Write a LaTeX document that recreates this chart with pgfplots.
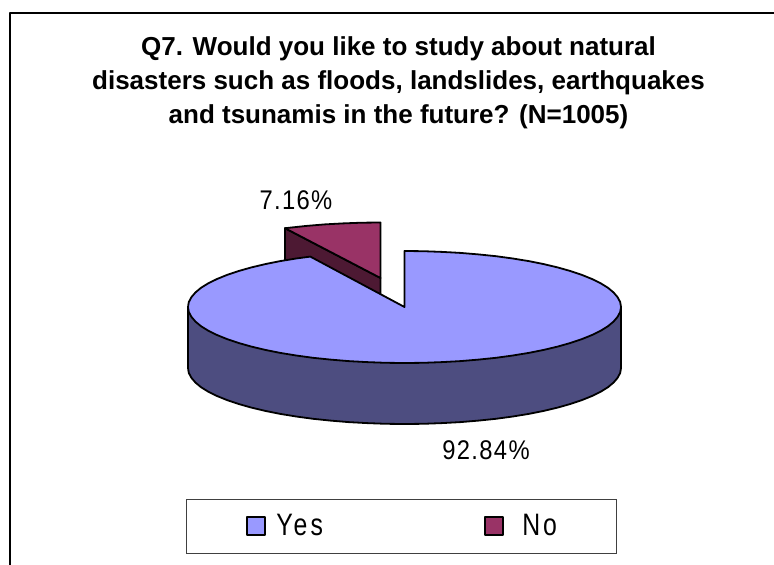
\documentclass[border=0pt]{standalone}
\usepackage{fontspec}
\setmainfont{Liberation Sans}
\newfontfamily\labelfont[LetterSpace=5,FakeStretch=0.88]{Liberation Sans}
\newfontfamily\legendfont[LetterSpace=10,FakeStretch=0.8]{Liberation Sans}
\usepackage{pgfplots}
\pgfplotsset{compat=1.18}
\definecolor{yestop}{HTML}{9999FF}
\definecolor{yesside}{HTML}{4D4D80}
\definecolor{notop}{HTML}{993366}
\definecolor{noside}{HTML}{4D1933}

\begin{document}
\begin{tikzpicture}
\path[use as bounding box] (0pt,0pt) rectangle (774pt,565pt);
\begin{axis}[
  at={(0pt,0pt)}, anchor=south west,
  scale only axis, width=774pt, height=565pt,
  xmin=0, xmax=774, ymin=0, ymax=565, y dir=reverse,
  hide axis, clip=false,
  no marks,
  every axis plot/.append style={line join=round},
  legend columns=2,
  legend cell align=left,
  legend style={
    at={(axis cs:186,499)}, anchor=north west,
    draw=black!75, line width=0.9pt,
    inner xsep=0pt, inner ysep=15pt,
    font=\fontsize{31}{33}\legendfont,
    nodes={inner xsep=0pt, inner ysep=0pt},
  },
]
\addlegendimage{legend image code/.code={\path (-60pt,-12.5pt) (29pt,0pt);
  \draw[fill=yestop,draw=black,line width=1.6pt] (0pt,-9pt) rectangle (18pt,9pt);}}
\addlegendentry{Yes\hspace*{161pt}}
\addlegendimage{legend image code/.code={\path (0pt,-12.5pt) (37pt,0pt);
  \draw[fill=notop,draw=black,line width=1.6pt] (0pt,-9pt) rectangle (18pt,9pt);}}
\addlegendentry{No\hspace*{59pt}}

% frame, only left and top show
\addplot[black, line width=1.4pt] coordinates {(10,565) (10,13) (774,13)};

% No slice 7.16%, pulled out up and left
\addplot[fill=noside, draw=black, line width=1.8pt] coordinates {
  (285,228.2) (380.5,278) (380.5,339) (285,289.2)} -- cycle;
\addplot[fill=notop, draw=black, line width=1.8pt] coordinates {
  (380.5,278) (380.5,222.5) (361.6,222.7) (342.9,223.4) (324.5,224.4)
  (306.5,225.9) (285,228.2)} -- cycle;

% Yes slice 92.84%, rim
\addplot[fill=yesside, draw=black, line width=1.8pt] coordinates {
  (621,307) (621,368) (620.2,372.9) (617.7,377.7) (613.6,382.5) (608,387.2)
  (600.7,391.7) (592,396) (581.9,400.1) (570.3,404) (557.6,407.6) (543.7,410.9)
  (528.7,413.9) (512.8,416.5) (496,418.8) (478.5,420.6) (460.5,422.1) (442.1,423.1)
  (423.4,423.8) (404.5,424) (385.6,423.8) (366.9,423.1) (348.5,422.1) (330.5,420.6)
  (313,418.8) (296.2,416.5) (280.3,413.9) (265.3,410.9) (251.4,407.6) (238.7,404)
  (227.1,400.1) (217,396) (208.3,391.7) (201,387.2) (195.4,382.5) (191.3,377.7)
  (188.8,372.9) (188,368) (188,307)} -- cycle;
% Yes slice, top
\addplot[fill=yestop, draw=black, line width=1.8pt] coordinates {
  (404.5,307) (404.5,251) (423.4,251.2) (442.1,251.9) (460.5,252.9) (478.5,254.4)
  (496,256.2) (512.8,258.5) (528.7,261.1) (543.7,264.1) (557.6,267.4) (570.3,271)
  (581.9,274.9) (592,279) (600.7,283.3) (608,287.8) (613.6,292.5) (617.7,297.3)
  (620.2,302.1) (621,307) (620.2,311.9) (617.7,316.7) (613.6,321.5) (608,326.2)
  (600.7,330.7) (592,335) (581.9,339.1) (570.3,343) (557.6,346.6) (543.7,349.9)
  (528.7,352.9) (512.8,355.5) (496,357.8) (478.5,359.6) (460.5,361.1) (442.1,362.1)
  (423.4,362.8) (404.5,363) (385.6,362.8) (366.9,362.1) (348.5,361.1) (330.5,359.6)
  (313,357.8) (296.2,355.5) (280.3,352.9) (265.3,349.9) (251.4,346.6) (238.7,343)
  (227.1,339.1) (217,335) (208.3,330.7) (201,326.2) (195.4,321.5) (191.3,316.7)
  (188.8,311.9) (188,307) (188.8,302.1) (191.3,297.3) (195.4,292.5) (201,287.8)
  (208.3,283.3) (217,279) (227.1,274.9) (238.7,271) (251.4,267.4) (265.3,264.1)
  (280.3,261.1) (296.2,258.5) (310.3,256.6)} -- cycle;

% title
\node[anchor=base, font=\fontsize{26}{34}\selectfont\bfseries] at (axis cs:398.5,55)
  {Q7. Would you like to study about natural};
\node[anchor=base, font=\fontsize{26}{34}\selectfont\bfseries] at (axis cs:398.5,89)
  {disasters such as floods, landslides, earthquakes};
\node[anchor=base, font=\fontsize{26}{34}\selectfont\bfseries] at (axis cs:398.5,123)
  {and tsunamis in the future? (N=1005)};
% data labels
\node[anchor=base, font=\fontsize{27}{30}\labelfont] at (axis cs:296,209) {7.16\%};
\node[anchor=base, font=\fontsize{27}{30}\labelfont] at (axis cs:486,459) {92.84\%};
\end{axis}
\end{tikzpicture}
\end{document}
